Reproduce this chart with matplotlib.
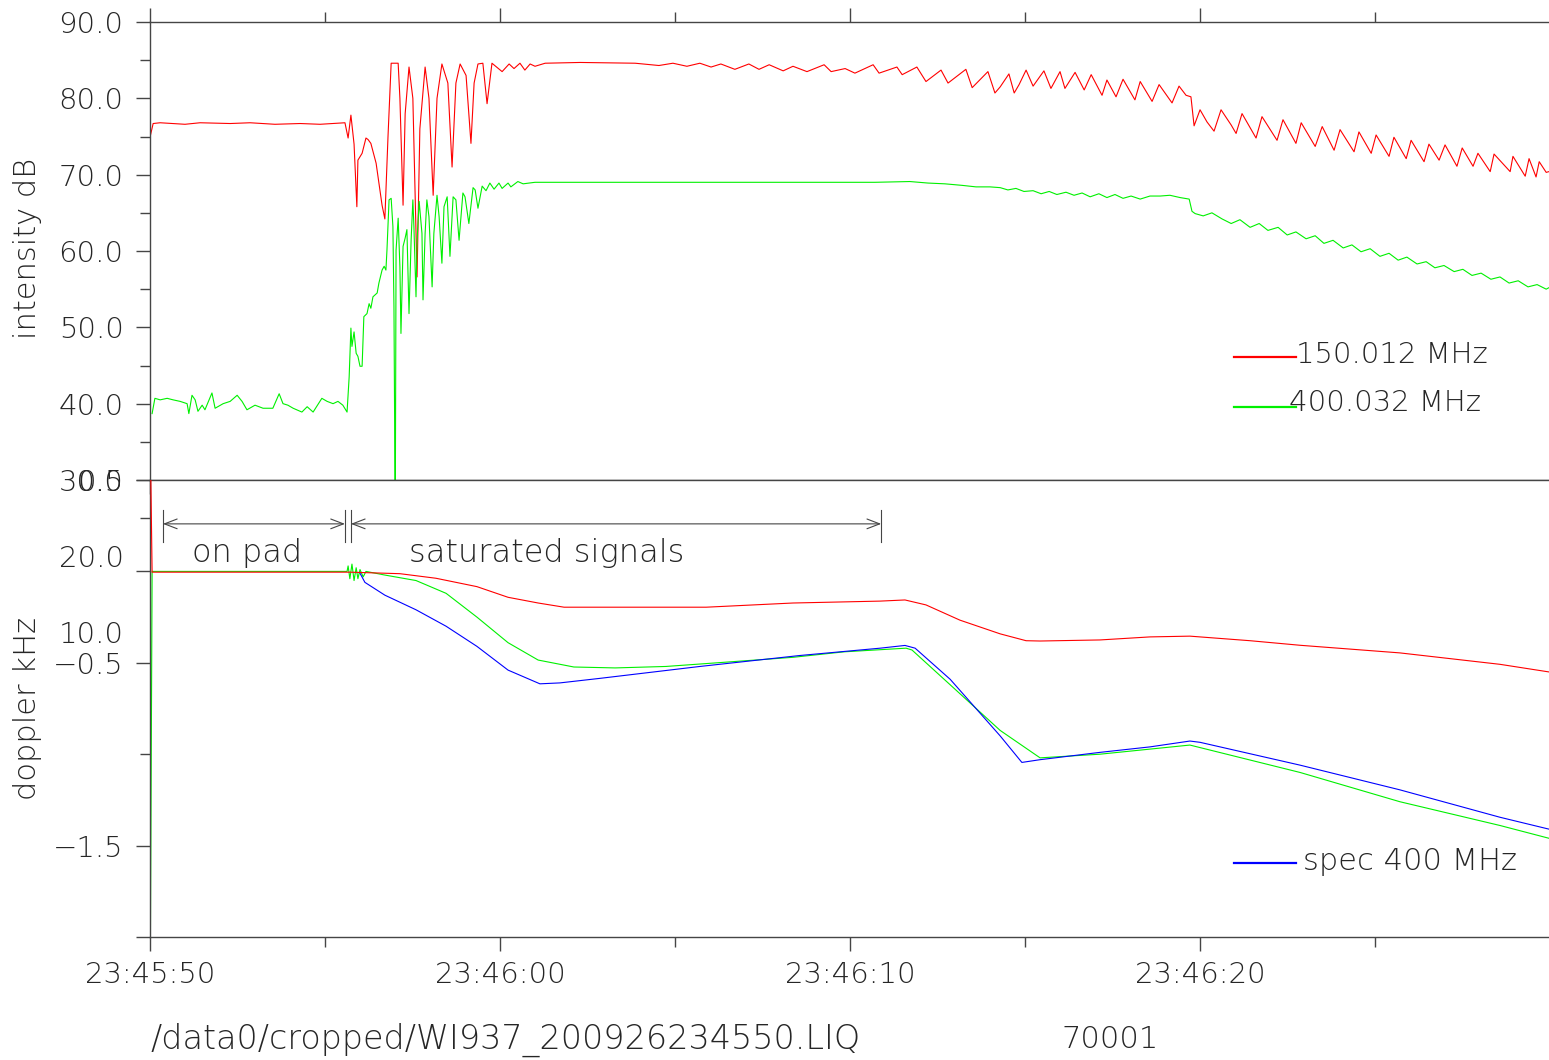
import numpy as np
import matplotlib.pyplot as plt
from matplotlib.ticker import FixedLocator
from matplotlib.patches import FancyArrowPatch

plt.rcParams['font.family'] = ['DejaVu Sans']
plt.rcParams['font.weight'] = 'light'

# time axis: seconds after 23:45:50
tick_labels = ['23:45:50', '23:46:00', '23:46:10', '23:46:20']

# intensity 150.012 MHz (dB)
red_db_pts = [
    (0.00, 74.9), (0.09, 76.7), (0.29, 76.8), (1.00, 76.6), (1.43, 76.8), (2.29, 76.7),
    (2.86, 76.8), (3.57, 76.6), (4.29, 76.7), (4.86, 76.6), (5.57, 76.8), (5.66, 74.8),
    (5.74, 77.8), (5.83, 74.0), (5.91, 65.8), (5.94, 71.9), (6.06, 72.8), (6.17, 74.8),
    (6.23, 74.6), (6.31, 74.1), (6.46, 71.5), (6.63, 66.0), (6.71, 64.2), (6.80, 75.0),
    (6.89, 84.6), (7.09, 84.6), (7.14, 80.0), (7.23, 66.0), (7.29, 78.0), (7.40, 84.1),
    (7.51, 80.0), (7.63, 56.6), (7.71, 76.0), (7.86, 84.1), (7.97, 80.0), (8.09, 67.3),
    (8.20, 80.0), (8.34, 84.5), (8.51, 82.0), (8.63, 71.0), (8.74, 82.0), (8.86, 84.5),
    (9.03, 83.0), (9.17, 74.1), (9.26, 82.0), (9.37, 84.5), (9.51, 84.6), (9.63, 79.3),
    (9.77, 84.6), (10.06, 83.5), (10.26, 84.5), (10.40, 83.9), (10.57, 84.6), (10.71, 83.7),
    (10.86, 84.5), (11.00, 84.2), (11.29, 84.6), (12.29, 84.7), (13.86, 84.6), (14.54, 84.3),
    (14.94, 84.6), (15.34, 84.2), (15.71, 84.6), (16.03, 84.1), (16.31, 84.5), (16.71, 83.8),
    (17.11, 84.5), (17.40, 83.8), (17.69, 84.4), (18.09, 83.6), (18.37, 84.2), (18.77, 83.5),
    (19.26, 84.4), (19.46, 83.5), (19.86, 83.9), (20.14, 83.3), (20.66, 84.4), (20.83, 83.3),
    (21.34, 84.1), (21.49, 83.1), (21.91, 84.1), (22.17, 82.2), (22.60, 83.7), (22.80, 82.0),
    (23.31, 83.8), (23.49, 81.4), (23.94, 83.5), (24.14, 80.7), (24.29, 81.5), (24.54, 83.2),
    (24.69, 80.7), (24.83, 81.8), (25.03, 83.7), (25.23, 81.6), (25.54, 83.6), (25.74, 81.3),
    (26.00, 83.5), (26.14, 81.3), (26.43, 83.4), (26.69, 81.1), (26.89, 83.1), (27.20, 80.4),
    (27.34, 82.4), (27.60, 80.2), (27.80, 82.5), (28.14, 79.8), (28.29, 82.2), (28.63, 79.6),
    (28.83, 81.8), (29.20, 79.4), (29.40, 81.6), (29.60, 80.4), (29.74, 80.2), (29.83, 76.4),
    (30.00, 78.5), (30.20, 76.9), (30.40, 75.7), (30.60, 78.5), (30.89, 76.5), (31.03, 75.4),
    (31.20, 78.0), (31.60, 74.8), (31.77, 77.6), (32.20, 74.5), (32.37, 77.2), (32.74, 74.1),
    (32.89, 76.8), (33.29, 73.7), (33.49, 76.3), (33.83, 73.2), (34.00, 75.9), (34.40, 73.0),
    (34.54, 75.6), (34.89, 72.8), (35.03, 75.2), (35.40, 72.4), (35.54, 74.9), (35.89, 72.1),
    (36.03, 74.5), (36.40, 71.7), (36.54, 74.0), (36.83, 71.9), (37.00, 73.9), (37.34, 71.1),
    (37.49, 73.5), (37.80, 71.1), (37.94, 72.8), (38.29, 70.4), (38.40, 72.7), (38.86, 70.4),
    (38.94, 72.4), (39.29, 69.8), (39.40, 72.1), (39.60, 69.7), (39.69, 71.7), (39.89, 70.3),
    (39.97, 70.4),
]

# intensity 400.032 MHz (dB)
green_db_pts = [
    (0.06, 38.7), (0.14, 40.7), (0.29, 40.5), (0.49, 40.7), (0.66, 40.5), (0.86, 40.3),
    (1.06, 40.0), (1.11, 38.7), (1.20, 41.1), (1.29, 40.5), (1.37, 39.0), (1.49, 39.8),
    (1.57, 39.2), (1.77, 41.4), (1.86, 39.4), (2.09, 40.0), (2.29, 40.3), (2.49, 41.1),
    (2.63, 40.3), (2.77, 39.2), (3.00, 39.8), (3.23, 39.4), (3.51, 39.4), (3.69, 41.3),
    (3.80, 40.0), (3.94, 39.8), (4.09, 39.4), (4.34, 38.9), (4.49, 39.6), (4.66, 38.9),
    (4.91, 40.7), (5.06, 40.3), (5.23, 40.0), (5.37, 40.3), (5.51, 39.8), (5.63, 38.9),
    (5.69, 43.5), (5.74, 49.9), (5.77, 47.5), (5.83, 49.4), (5.89, 46.6), (5.94, 46.2),
    (6.00, 44.9), (6.06, 44.9), (6.11, 51.4), (6.20, 51.8), (6.26, 53.1), (6.31, 52.5),
    (6.37, 54.0), (6.49, 54.5), (6.54, 55.8), (6.63, 57.5), (6.69, 58.0), (6.74, 57.5),
    (6.77, 60.1), (6.83, 66.7), (6.89, 66.9), (6.94, 63.2), (6.97, 52.7), (7.00, 29.0),
    (7.01, 29.0), (7.03, 60.1), (7.09, 64.3), (7.14, 57.9), (7.17, 49.2), (7.23, 60.6),
    (7.29, 61.7), (7.34, 62.8), (7.37, 57.1), (7.40, 51.8), (7.46, 61.4), (7.51, 66.7),
    (7.54, 63.2), (7.60, 54.0), (7.63, 61.4), (7.69, 66.5), (7.77, 62.3), (7.80, 53.6),
    (7.86, 62.3), (7.91, 66.7), (7.97, 64.5), (8.06, 55.3), (8.11, 62.3), (8.20, 67.3),
    (8.26, 64.5), (8.34, 58.4), (8.40, 65.8), (8.49, 67.1), (8.57, 59.3), (8.66, 67.1),
    (8.74, 66.7), (8.83, 61.4), (8.94, 67.6), (9.00, 67.1), (9.11, 63.6), (9.23, 68.3),
    (9.29, 68.0), (9.37, 65.6), (9.49, 68.5), (9.60, 67.9), (9.71, 68.9), (9.83, 68.1),
    (9.97, 68.9), (10.06, 68.2), (10.23, 68.9), (10.31, 68.4), (10.51, 69.1), (10.66, 68.8),
    (11.00, 69.0), (12.86, 69.0), (15.71, 69.0), (18.57, 69.0), (20.71, 69.0), (21.71, 69.1),
    (22.23, 68.9), (22.71, 68.8), (23.20, 68.6), (23.60, 68.4), (24.00, 68.4), (24.29, 68.3),
    (24.51, 68.0), (24.74, 68.2), (24.97, 67.8), (25.23, 67.9), (25.46, 67.5), (25.69, 67.8),
    (25.91, 67.4), (26.17, 67.7), (26.40, 67.3), (26.63, 67.6), (26.86, 67.1), (27.11, 67.5),
    (27.34, 67.0), (27.57, 67.4), (27.80, 66.9), (28.03, 67.2), (28.29, 66.8), (28.57, 67.2),
    (28.86, 67.2), (29.14, 67.3), (29.43, 67.0), (29.69, 66.8), (29.77, 65.2), (29.86, 64.9),
    (30.09, 64.6), (30.34, 65.0), (30.63, 64.2), (30.89, 63.6), (31.14, 64.1), (31.43, 63.1),
    (31.69, 63.6), (31.94, 62.7), (32.23, 63.1), (32.49, 62.1), (32.74, 62.5), (33.03, 61.6),
    (33.29, 62.0), (33.54, 61.0), (33.80, 61.4), (34.09, 60.4), (34.34, 60.8), (34.60, 59.9),
    (34.86, 60.3), (35.14, 59.3), (35.40, 59.7), (35.66, 58.8), (35.91, 59.2), (36.20, 58.3),
    (36.46, 58.6), (36.71, 57.8), (36.97, 58.1), (37.26, 57.3), (37.51, 57.6), (37.77, 56.8),
    (38.03, 57.1), (38.31, 56.3), (38.57, 56.6), (38.83, 55.8), (39.09, 56.1), (39.37, 55.3),
    (39.63, 55.6), (39.89, 55.0), (39.97, 55.2),
]

# doppler 150 MHz (kHz, own scale)
red_dop_pts = [
    (0.01, 35.0), (0.06, 17.9), (5.71, 17.9), (7.14, 17.7), (8.17, 17.1), (9.34, 16.0),
    (10.23, 14.6), (11.09, 13.85), (11.83, 13.3), (14.00, 13.3), (15.89, 13.3), (18.37, 13.85),
    (20.86, 14.1), (21.57, 14.25), (22.17, 13.6), (23.14, 11.6), (24.29, 9.8), (25.03, 8.9),
    (25.43, 8.86), (27.14, 9.0), (28.57, 9.4), (29.71, 9.5), (31.43, 8.9), (32.86, 8.3),
    (35.71, 7.3), (38.57, 5.8), (39.97, 4.8),
]

# doppler 400 MHz (kHz)
green_dop_pts = [
    (0.01, -2.1), (0.06, 0.0), (5.63, 0.0), (5.66, 0.03), (5.71, -0.04), (5.77, 0.04),
    (5.83, -0.05), (5.89, 0.02), (5.94, -0.04), (6.00, 0.01), (6.09, -0.03), (6.17, 0.0),
    (6.71, -0.02), (7.60, -0.05), (8.46, -0.12), (9.34, -0.25), (10.23, -0.39), (11.09, -0.485),
    (12.11, -0.523), (13.29, -0.528), (14.74, -0.52), (16.20, -0.50), (18.37, -0.47),
    (19.83, -0.44), (21.60, -0.42), (21.77, -0.43), (22.86, -0.62), (24.29, -0.87),
    (25.43, -1.02), (27.14, -1.00), (29.71, -0.95), (32.86, -1.10), (35.71, -1.26),
    (38.57, -1.39), (39.97, -1.46),
]

blue_dop_pts = [
    (6.00, -0.01), (6.14, -0.06), (6.71, -0.13), (7.60, -0.21), (8.46, -0.30), (9.34, -0.41),
    (10.23, -0.54), (11.14, -0.615), (11.71, -0.61), (12.86, -0.585), (15.71, -0.52),
    (18.57, -0.46), (20.86, -0.42), (21.57, -0.405), (21.86, -0.42), (22.86, -0.59),
    (24.29, -0.90), (24.91, -1.045), (25.43, -1.03), (27.14, -0.99), (28.57, -0.96),
    (29.71, -0.928), (30.00, -0.935), (32.86, -1.06), (35.71, -1.195), (38.57, -1.345),
    (39.97, -1.41),
]

RED = '#ff0000'
GREEN = '#00f000'
BLUE = '#0000ff'
AXC = '#454545'
TXT = '#262626'
FS = 21      # tick labels
FS_W = 22    # words
FS_F = 24    # footer line

W, H = 1549, 1060
fig = plt.figure(figsize=(W / 100, H / 100), dpi=100)
ax1 = fig.add_axes([150 / W, 1 - 480 / H, 1399 / W, 458 / H])
ax2 = fig.add_axes([150 / W, 1 - 937 / H, 1399 / W, 457 / H])
axr = ax2.twinx()

# curves
t, v = zip(*red_db_pts)
ax1.plot(t, v, color=RED, lw=0.8)
t, v = zip(*green_db_pts)
ax1.plot(t, v, color=GREEN, lw=0.8)
t, v = zip(*green_dop_pts)
ax2.plot(t, v, color=GREEN, lw=0.8)
t, v = zip(*blue_dop_pts)
ax2.plot(t, v, color=BLUE, lw=0.8)
t, v = zip(*red_dop_pts)
axr.plot(t, v, color=RED, lw=0.8)

# axes styling
for ax in (ax1, ax2):
    ax.set_xlim(0, 39.97)
    ax.spines['right'].set_visible(False)
    for s in ('left', 'top', 'bottom'):
        ax.spines[s].set_color(AXC)
        ax.spines[s].set_linewidth(1.0)
    ax.xaxis.set_major_locator(FixedLocator([0, 10, 20, 30]))
    ax.xaxis.set_minor_locator(FixedLocator([5, 15, 25, 35]))
    ax.tick_params(which='major', length=10, width=1, direction='out', color=AXC)
    ax.tick_params(which='minor', length=7, width=1, direction='out', color=AXC)
    ax.tick_params(labelsize=FS, labelcolor=TXT)
    ax.tick_params(axis='y', pad=9)

ax1.tick_params(axis='x', which='both', top=True, bottom=True, labelbottom=False)
ax1.set_ylim(30, 90)
ax1.set_yticks([30, 40, 50, 60, 70, 80, 90])
ax1.set_yticklabels(['30.0', '40.0', '50.0', '60.0', '70.0', '80.0', '90.0'])
ax1.yaxis.set_minor_locator(FixedLocator([35, 45, 55, 65, 75, 85]))

ax2.set_ylim(-2.0, 0.5)
ax2.set_xticklabels(tick_labels)
ax2.tick_params(axis='x', pad=7)
ax2.set_yticks([-2.0, -1.5, -0.5, 0.0, 0.5])
ax2.set_yticklabels(['', '\u22121.5', '\u22120.5', '', '0.5'])
ax2.yaxis.set_minor_locator(FixedLocator([-1.0]))

axr.set_ylim(-30, 30)
axr.yaxis.tick_left()
for s in axr.spines.values():
    s.set_visible(False)
axr.set_yticks([10, 20])
axr.set_yticklabels(['10.0', '20.0'])
axr.yaxis.set_minor_locator(FixedLocator([25]))
axr.tick_params(axis='y', which='major', length=0, pad=19, labelsize=FS, labelcolor=TXT)
axr.tick_params(axis='y', which='minor', length=7, width=1, direction='out', color=AXC)

# axis titles
fig.text(28 / W, 1 - 248 / H, 'intensity dB', rotation=90, ha='center', va='center',
         fontsize=FS_W, color=TXT)
fig.text(28 / W, 1 - 708 / H, 'doppler kHz', rotation=90, ha='center', va='center',
         fontsize=FS_W, color=TXT)

# legends
ax1.plot([0.7748, 0.8192], [0.2686, 0.2686], transform=ax1.transAxes, color=RED, lw=1.6)
ax1.text(0.8192, 0.2729, '150.012 MHz', transform=ax1.transAxes, ha='left', va='center',
         fontsize=FS, color=TXT)
ax1.plot([0.7748, 0.8192], [0.1594, 0.1594], transform=ax1.transAxes, color=GREEN, lw=1.6)
ax1.text(0.8142, 0.1681, '400.032 MHz', transform=ax1.transAxes, ha='left', va='center',
         fontsize=FS, color=TXT)
ax2.plot([0.7748, 0.8192], [0.1619, 0.1619], transform=ax2.transAxes, color=BLUE, lw=1.6)
ax2.text(0.8242, 0.1663, 'spec 400 MHz', transform=ax2.transAxes, ha='left', va='center',
         fontsize=FS_W, color=TXT)

# phase markers
for tb in (0.37, 5.57, 5.74, 20.89):
    ax2.plot([tb, tb], [0.336, 0.161], color=AXC, lw=0.8)
for a, b in ((0.37, 5.57), (5.74, 20.89)):
    ax2.add_patch(FancyArrowPatch((a, 0.26), (b, 0.26),
                                  arrowstyle='<->,head_length=0.65,head_width=0.25',
                                  mutation_scale=14, lw=0.8, color=AXC,
                                  shrinkA=0, shrinkB=0))
ax2.text(2.77, 0.10, 'on pad', ha='center', va='center', fontsize=FS_W + 1, color=TXT)
ax2.text(11.34, 0.10, 'saturated signals', ha='center', va='center', fontsize=FS_W + 1,
         color=TXT)

# footer
fig.text(150 / W, 1 - 1040 / H, '/data0/cropped/WI937_200926234550.LIQ', ha='left',
         va='center', fontsize=FS_F, color=TXT)
fig.text(1062 / W, 1 - 1040 / H, '70001', ha='left', va='center', fontsize=FS_W, color=TXT)

fig.savefig('out.png', dpi=100)
